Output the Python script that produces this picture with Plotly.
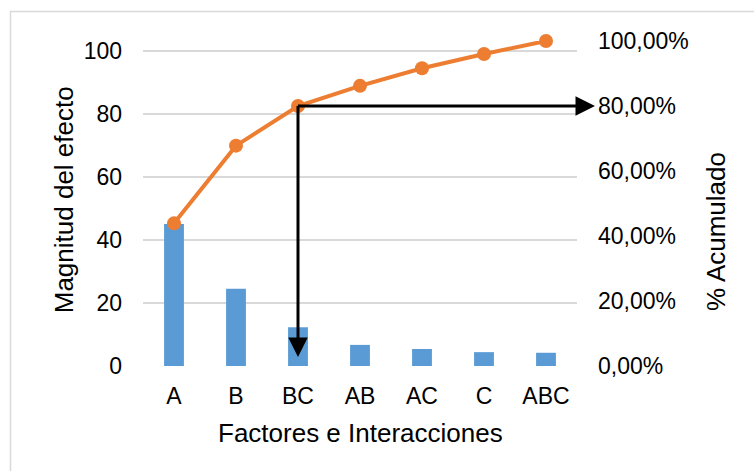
import plotly.graph_objects as go

# Pareto data: effect magnitude per factor / interaction and cumulative share
factors = ["A", "B", "BC", "AB", "AC", "C", "ABC"]
magnitude = [45.1, 24.5, 12.3, 6.7, 5.4, 4.4, 4.2]
cumulative = [0.439, 0.678, 0.800, 0.862, 0.916, 0.960, 1.000]

left_ticks = [0, 20, 40, 60, 80, 100]
right_ticks = [0.0, 0.2, 0.4, 0.6, 0.8, 1.0]

# cut-off point marked by the arrows
cut_factor = "BC"
cut_share = 0.80

FONT = "Liberation Sans, Arial, sans-serif"
TICK_SIZE = 23
TITLE_SIZE = 26
GRID = "#D9D9D9"

fig = go.Figure()

fig.add_trace(go.Bar(
    x=factors, y=magnitude, name="Magnitud del efecto",
    marker=dict(color="#5B9BD5", line=dict(width=0)),
    width=0.32, yaxis="y",
))

fig.add_trace(go.Scatter(
    x=factors, y=cumulative, name="% Acumulado",
    mode="lines+markers",
    line=dict(color="#ED7D31", width=4),
    marker=dict(color="#ED7D31", size=14),
    yaxis="y2", cliponaxis=False,
))

cut_idx = factors.index(cut_factor)

fig.update_layout(
    width=754, height=471,
    margin=dict(l=143, r=177, t=41, b=105),
    paper_bgcolor="white", plot_bgcolor="white",
    separators=",.",
    showlegend=False,
    font=dict(family=FONT, size=TICK_SIZE, color="#000000"),
    xaxis=dict(
        type="category", categoryorder="array", categoryarray=factors,
        range=[-0.5, len(factors) - 0.5],
        showgrid=False, showline=False, zeroline=False,
        ticks="", ticklabelstandoff=14,
        tickfont=dict(family=FONT, size=TICK_SIZE),
    ),
    yaxis=dict(
        range=[0, 103.2], tickvals=left_ticks,
        showgrid=True, gridcolor=GRID, gridwidth=1.5,
        zeroline=False, showline=False, ticks="",
        ticklabelstandoff=20,
        tickfont=dict(family=FONT, size=TICK_SIZE),
    ),
    yaxis2=dict(
        overlaying="y", side="right",
        range=[0, 1.0], tickvals=right_ticks, tickformat=".2%",
        showgrid=False, zeroline=False, showline=False, ticks="",
        ticklabelstandoff=20,
        tickfont=dict(family=FONT, size=TICK_SIZE),
    ),
)

# axis titles
fig.add_annotation(text="Factores e Interacciones", xref="paper", yref="paper",
                   x=0.5, y=-0.205, xanchor="center", yanchor="middle",
                   showarrow=False, font=dict(family=FONT, size=TITLE_SIZE))
fig.add_annotation(text="Magnitud del efecto", xref="paper", yref="paper",
                   x=-0.182, y=0.51, xanchor="center", yanchor="middle",
                   textangle=-90, showarrow=False,
                   font=dict(family=FONT, size=TITLE_SIZE))
fig.add_annotation(text="% Acumulado", xref="paper", yref="paper",
                   x=1.32, y=0.415, xanchor="center", yanchor="middle",
                   textangle=-90, showarrow=False,
                   font=dict(family=FONT, size=TITLE_SIZE))

# arrows from the 80 % cut-off point: right to the axis, down to the bars
fig.add_annotation(text="", xref="x", yref="y2", x=6.79, y=cut_share,
                   axref="x", ayref="y2", ax=cut_idx - 0.025, ay=cut_share,
                   showarrow=True, arrowhead=2, arrowsize=1.3, arrowwidth=3,
                   arrowcolor="#000000", standoff=0, startstandoff=0)
fig.add_annotation(text="", xref="x", yref="y2", x=cut_idx, y=0.028,
                   axref="x", ayref="y2", ax=cut_idx, ay=cut_share + 0.005,
                   showarrow=True, arrowhead=2, arrowsize=1.3, arrowwidth=3,
                   arrowcolor="#000000", standoff=0, startstandoff=0)

# chart frame
fig.add_shape(type="rect", xref="paper", yref="paper",
              x0=(10.5 - 143) / 434, x1=(770 - 143) / 434,
              y0=(366 - 490) / 325, y1=(366 - 11.5) / 325,
              line=dict(color=GRID, width=1.5), fillcolor="rgba(0,0,0,0)",
              layer="below")

fig.write_html("out.html")
